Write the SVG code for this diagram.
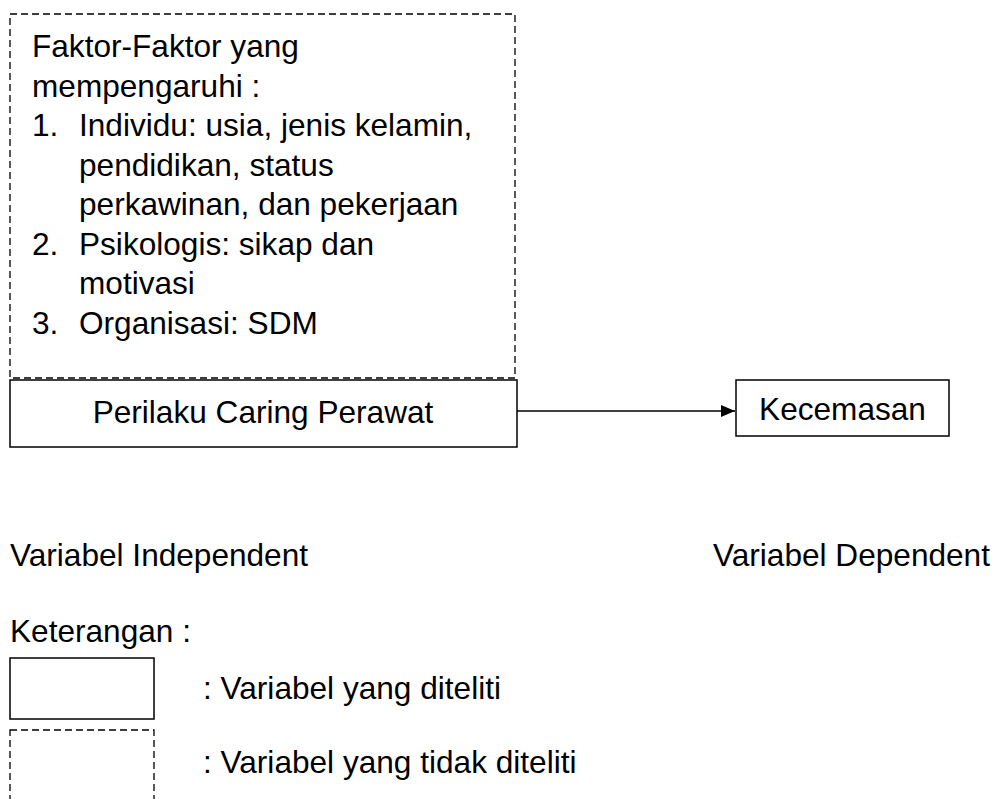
<svg xmlns="http://www.w3.org/2000/svg" width="999" height="799" viewBox="0 0 999 799">
<style>
text{font-family:"Liberation Sans",Arial,sans-serif;font-size:31.6px;fill:#000}
.solid{fill:#fff;stroke:#000;stroke-width:1.5}
.dash{fill:none;stroke:#000;stroke-width:1.3;stroke-dasharray:7 4}
.conn{stroke:#000;stroke-width:1.5;fill:none}
</style>
<defs>
<marker id="ah" viewBox="0 0 14 12" refX="14" refY="6" markerWidth="14" markerHeight="12" markerUnits="userSpaceOnUse" orient="auto">
<path d="M0,0 L14,6 L0,12 z" fill="#000"/>
</marker>
</defs>
<rect width="999" height="799" fill="#fff"/>
<g id="faktor">
<rect class="dash" x="10" y="14" width="505" height="364"/>
<text x="32" y="57">Faktor-Faktor yang</text>
<text x="32" y="96.5">mempengaruhi :</text>
<text x="32" y="136">1.</text><text x="79" y="136">Individu: usia, jenis kelamin,</text>
<text x="79" y="175.5">pendidikan, status</text>
<text x="79" y="215">perkawinan, dan pekerjaan</text>
<text x="32" y="254.5">2.</text><text x="79" y="254.5">Psikologis: sikap dan</text>
<text x="79" y="294">motivasi</text>
<text x="32" y="333.5">3.</text><text x="79" y="333.5">Organisasi: SDM</text>
</g>
<g id="perilaku">
<rect class="solid" x="10" y="380" width="507" height="67"/>
<text x="263" y="423" text-anchor="middle">Perilaku Caring Perawat</text>
</g>
<g id="kecemasan">
<rect class="solid" x="736" y="380" width="213" height="56"/>
<text x="842.5" y="420" text-anchor="middle">Kecemasan</text>
</g>
<g id="connectors">
<line class="conn" x1="517" y1="411" x2="735" y2="411" marker-end="url(#ah)"/>
</g>
<g id="labels">
<text x="10" y="566">Variabel Independent</text>
<text x="713" y="566">Variabel Dependent</text>
<text x="10" y="642">Keterangan :</text>
</g>
<g id="legend">
<rect class="solid" x="10" y="658" width="144" height="61"/>
<text x="203" y="699">: Variabel yang diteliti</text>
<rect class="dash" x="10" y="730" width="144" height="90"/>
<text x="203" y="773">: Variabel yang tidak diteliti</text>
</g>
</svg>
